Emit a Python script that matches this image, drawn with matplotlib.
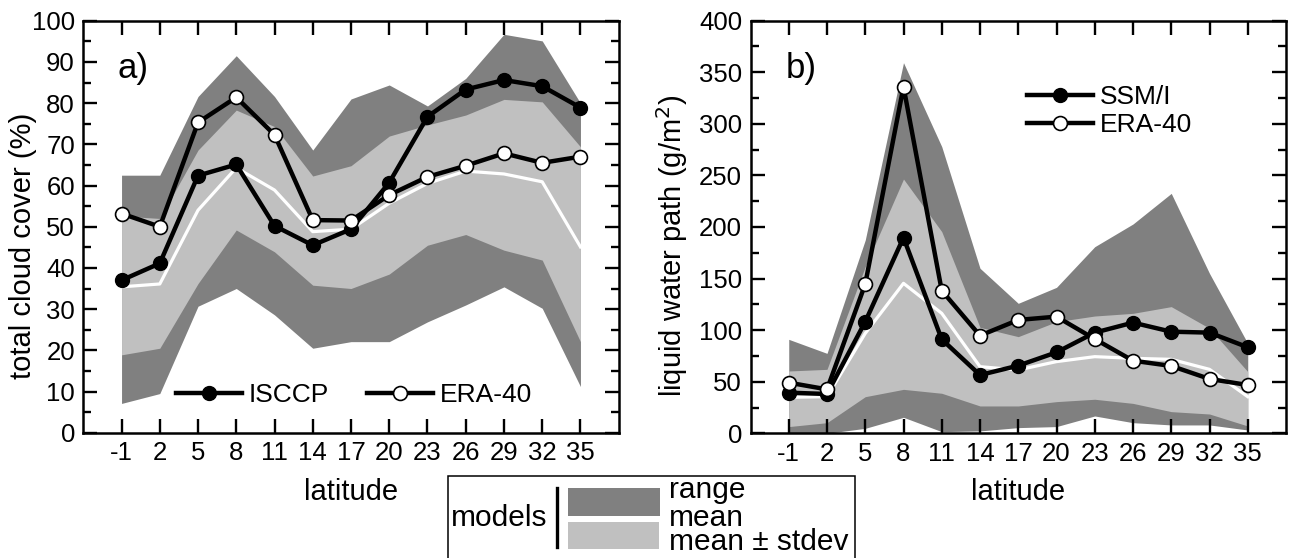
import numpy as np
import matplotlib
matplotlib.use('Agg')
import matplotlib.pyplot as plt
from matplotlib.patches import Rectangle
from matplotlib.lines import Line2D
from matplotlib.ticker import MultipleLocator

plt.rcParams['font.family'] = ['Liberation Sans', 'DejaVu Sans']
plt.rcParams['axes.unicode_minus'] = False

# latitude bins
lat = [-1, 2, 5, 8, 11, 14, 17, 20, 23, 26, 29, 32, 35]

# a) total cloud cover (%)
isccp = [37.0, 41.1, 62.4, 65.1, 50.2, 45.5, 49.4, 60.7, 76.7, 83.3, 85.6, 84.1, 78.9]
era_a = [53.2, 50.0, 75.3, 81.4, 72.3, 51.6, 51.5, 57.7, 62.1, 64.8, 67.8, 65.5, 67.0]
a_max = [62.5, 62.5, 81.6, 91.5, 81.6, 68.6, 81.0, 84.4, 79.3, 86.0, 96.7, 95.1, 80.0]
a_min = [7.1, 9.5, 30.7, 35.0, 28.6, 20.5, 22.1, 22.1, 26.9, 31.0, 35.4, 30.2, 11.2]
a_sdhi = [52.6, 52.0, 68.6, 78.3, 74.3, 62.3, 64.8, 72.0, 74.7, 77.1, 80.9, 80.3, 69.4]
a_sdlo = [18.9, 20.5, 36.2, 49.2, 43.9, 35.8, 35.0, 38.5, 45.5, 48.1, 44.3, 41.9, 22.1]
a_mean = [35.4, 36.1, 54.0, 64.3, 58.9, 48.8, 49.4, 55.7, 60.5, 63.5, 62.8, 60.9, 45.1]

# b) liquid water path (g/m2)
ssmi = [39.4, 38.1, 108.2, 189.7, 91.1, 56.5, 65.6, 78.5, 97.6, 107.3, 98.5, 97.6, 83.4]
era_b = [49.1, 42.6, 144.7, 336.0, 138.3, 94.7, 109.9, 113.1, 91.4, 70.4, 65.3, 52.7, 46.8]
b_max = [91.1, 77.5, 187.4, 359.3, 277.9, 160.0, 126.0, 141.5, 180.9, 202.9, 232.6, 155.0, 87.2]
b_min = [0.0, 0.0, 4.8, 15.5, 1.6, 2.3, 5.5, 6.5, 16.8, 10.3, 8.1, 8.1, 3.2]
b_sdhi = [60.4, 62.0, 161.6, 246.5, 195.5, 102.7, 93.7, 108.2, 113.7, 116.3, 122.8, 101.8, 59.8]
b_sdlo = [6.5, 10.3, 35.5, 42.6, 38.8, 26.5, 26.5, 30.7, 33.0, 29.0, 21.0, 18.7, 7.1]
b_mean = [34.9, 35.5, 96.9, 145.4, 116.3, 64.6, 61.4, 69.5, 74.3, 72.7, 71.7, 62.0, 35.5]

DARK = '#808080'
LIGHT = '#c0c0c0'
W, H = 1291, 558

fig = plt.figure(figsize=(W / 100, H / 100), dpi=100)
ax_a = fig.add_axes([83.3 / W, 1 - 432.7 / H, 535.4 / W, 412 / H])
ax_b = fig.add_axes([750.5 / W, 1 - 433.3 / H, 535.5 / W, 412.6 / H])


def panel(ax, obs, era, vmin, vmax, sdlo, sdhi, vmean, obs_name, ylim, major, minor):
    ax.fill_between(lat, vmin, vmax, color=DARK, lw=0, zorder=1)
    ax.fill_between(lat, sdlo, sdhi, color=LIGHT, lw=0, zorder=1.5)
    ax.plot(lat, vmean, color='white', lw=2.3, zorder=2)
    ax.plot(lat, obs, '-o', color='black', lw=3.2, ms=10, mfc='black',
            mec='black', mew=1, zorder=3, label=obs_name)
    ax.plot(lat, era, '-o', color='black', lw=3.2, ms=10, mfc='white',
            mec='black', mew=1.2, zorder=4, label='ERA-40')
    ax.set_xlim(-4, 38)
    ax.set_ylim(*ylim)
    ax.set_xticks(lat)
    ax.yaxis.set_major_locator(MultipleLocator(major))
    ax.yaxis.set_minor_locator(MultipleLocator(minor))
    ax.tick_params(which='both', direction='in', top=True, right=True,
                   width=1.7, labelsize=18.5)
    ax.tick_params(which='major', length=10, pad=6)
    ax.tick_params(which='minor', length=6)
    ax.tick_params(axis='x', which='minor', top=False, bottom=False)
    for s in ax.spines.values():
        s.set_linewidth(1.8)
    ax.set_xlabel('latitude', fontsize=21)
    ax.xaxis.label.set_va('center')
    ax.xaxis.set_label_coords(0.5, -0.143)


panel(ax_a, isccp, era_a, a_min, a_max, a_sdlo, a_sdhi, a_mean,
      'ISCCP', (0, 100), 10, 5)
panel(ax_b, ssmi, era_b, b_min, b_max, b_sdlo, b_sdhi, b_mean,
      'SSM/I', (0, 400), 50, 25)

ax_a.set_ylabel('total cloud cover (%)', fontsize=21)
ax_a.yaxis.label.set_va('center')
ax_a.yaxis.set_label_coords(-0.1126, 0.454)
ax_b.set_ylabel('liquid water path (g/m$^2$)', fontsize=21)
ax_b.yaxis.label.set_va('center')
ax_b.yaxis.set_label_coords(-0.147, 0.454)

ax_a.text(0.064, 0.885, 'a)', transform=ax_a.transAxes, fontsize=25,
          ha='left', va='center')
ax_b.text(0.066, 0.885, 'b)', transform=ax_b.transAxes, fontsize=25,
          ha='left', va='center')

ax_a.legend(loc='center left', bbox_to_anchor=(0.173, 0.091), ncol=2,
            frameon=False, fontsize=19, handlelength=2.5, handletextpad=0.25,
            columnspacing=1.45, borderpad=0, borderaxespad=0)
ax_b.legend(loc='center left', bbox_to_anchor=(0.516, 0.781),
            frameon=False, fontsize=19, handlelength=2.5, handletextpad=0.25,
            labelspacing=0.15, borderpad=0, borderaxespad=0)


# shared "models" legend box under the panels (pixel coords from top-left)
def fx(x):
    return x / W


def fy(y):
    return 1 - y / H


fig.add_artist(Rectangle((fx(448), fy(566)), 407 / W, 90 / H, fill=False,
                         ec='black', lw=1.1, transform=fig.transFigure,
                         clip_on=False))
fig.add_artist(Line2D([fx(557.3), fx(557.3)], [fy(488.3), fy(547.3)],
                      color='black', lw=2.4, transform=fig.transFigure))
fig.add_artist(Rectangle((fx(567.7), fy(516)), 92.3 / W, 27.7 / H,
                         fc=DARK, ec='none', transform=fig.transFigure))
fig.add_artist(Rectangle((fx(567.7), fy(549.3)), 91 / W, 27.3 / H,
                         fc=LIGHT, ec='none', transform=fig.transFigure))
fig.text(fx(451), fy(526), 'models', fontsize=21.5, ha='left', va='baseline')
fig.text(fx(669), fy(498.5), 'range', fontsize=21.5, ha='left', va='baseline')
fig.text(fx(669), fy(526.5), 'mean', fontsize=21.5, ha='left', va='baseline')
fig.text(fx(669), fy(550), 'mean \u00b1 stdev', fontsize=21.5, ha='left',
         va='baseline')

fig.savefig('out.png', dpi=100)
